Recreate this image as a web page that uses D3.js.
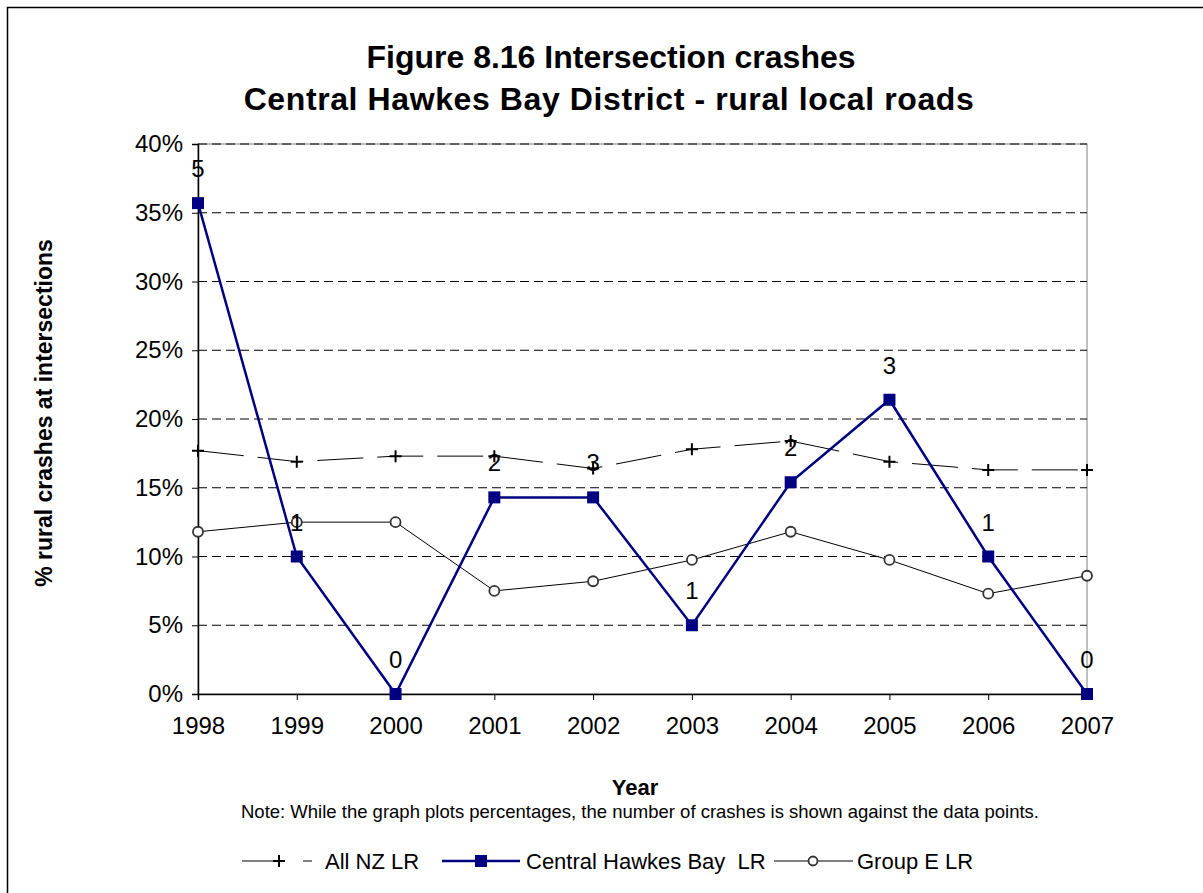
<!DOCTYPE html>
<html>
<head>
<meta charset="utf-8">
<script src="https://cdn.jsdelivr.net/npm/d3@7"></script>
<style>
  html, body { margin: 0; padding: 0; background: #fff; }
  svg { display: block; font-family: "Liberation Sans", Arial, sans-serif; }
  text { white-space: pre; }
</style>
</head>
<body>
<svg id="chart" width="1203" height="893"></svg>
<script>
const years = ["1998","1999","2000","2001","2002","2003","2004","2005","2006","2007"];
const allNZ = [0.177, 0.169, 0.173, 0.173, 0.164, 0.178, 0.184, 0.169, 0.163, 0.163];
const centralHB = [0.357, 0.100, 0.000, 0.143, 0.143, 0.050, 0.154, 0.214, 0.100, 0.000];
const groupE = [0.118, 0.125, 0.125, 0.075, 0.082, 0.0975, 0.118, 0.0975, 0.073, 0.086];
const crashCounts = [5, 1, 0, 2, 3, 1, 2, 3, 1, 0];
const yTicks = [0, 0.05, 0.10, 0.15, 0.20, 0.25, 0.30, 0.35, 0.40];
const seriesNames = ["All NZ LR", "Central Hawkes Bay  LR", "Group E LR"];

const svg = d3.select("#chart");
const pL = 198, pR = 1087, pT = 144, pB = 694;
const FONT = "Liberation Sans, Arial, sans-serif";

// outer chart border (extends past the picture on right/bottom)
svg.append("rect").attr("x", 7.5).attr("y", 7.5).attr("width", 1220).attr("height", 900)
  .attr("fill", "#fff").attr("stroke", "#000").attr("stroke-width", 1.5);

const x = d3.scalePoint().domain(years).range([pL, pR]);
const y = d3.scaleLinear().domain([0, 0.4]).range([pB, pT]);

// plot area border
svg.append("rect").attr("x", pL).attr("y", pT).attr("width", pR - pL).attr("height", pB - pT)
  .attr("fill", "none").attr("stroke", "#808080").attr("stroke-width", 1);

// gridlines
svg.append("g").selectAll("line").data(yTicks.filter(d => d > 0)).join("line")
  .attr("x1", pL).attr("x2", pR)
  .attr("y1", d => y(d)).attr("y2", d => y(d))
  .attr("stroke", "#000").attr("stroke-width", 1).attr("stroke-dasharray", "9,5");

// axes
const yAxis = d3.axisLeft(y).tickValues(yTicks).tickFormat(d3.format(".0%")).tickSizeOuter(0).tickSize(6).tickPadding(9);
const gy = svg.append("g").attr("transform", `translate(${pL},0)`).call(yAxis);
gy.attr("font-size", 24).attr("font-family", FONT);
gy.select(".domain").attr("stroke", "#000").attr("stroke-width", 1.5);
gy.selectAll("text").attr("fill", "#000");

const xAxis = d3.axisBottom(x).tickSizeOuter(0).tickSize(6).tickPadding(17);
const gx = svg.append("g").attr("transform", `translate(0,${pB})`).call(xAxis);
gx.attr("font-size", 24).attr("font-family", FONT);
gx.select(".domain").attr("stroke", "#000").attr("stroke-width", 1.5);
gx.selectAll("text").attr("fill", "#000");

const line = d3.line().x((d, i) => x(years[i])).y(d => y(d));

// Group E
svg.append("path").datum(groupE).attr("d", line).attr("fill", "none")
  .attr("stroke", "#000").attr("stroke-width", 1);
svg.append("g").selectAll("circle").data(groupE).join("circle")
  .attr("cx", (d, i) => x(years[i])).attr("cy", d => y(d)).attr("r", 5)
  .attr("fill", "#fff").attr("stroke", "#333").attr("stroke-width", 1.8);

// All NZ
svg.append("path").datum(allNZ).attr("d", line).attr("fill", "none")
  .attr("stroke", "#000").attr("stroke-width", 1).attr("stroke-dasharray", "46,14");
svg.append("g").selectAll("path").data(allNZ).join("path")
  .attr("transform", (d, i) => `translate(${x(years[i])},${y(d)})`)
  .attr("d", "M-6,0H6M0,-6V6").attr("stroke", "#000").attr("stroke-width", 2);

// Central HB
svg.append("path").datum(centralHB).attr("d", line).attr("fill", "none")
  .attr("stroke", "#000080").attr("stroke-width", 2.5);
svg.append("g").selectAll("rect").data(centralHB).join("rect")
  .attr("x", (d, i) => x(years[i]) - 6).attr("y", d => y(d) - 6)
  .attr("width", 12).attr("height", 12).attr("fill", "#000080");

// count labels
svg.append("g").selectAll("text").data(centralHB).join("text")
  .attr("x", (d, i) => x(years[i])).attr("y", d => y(d) - 26)
  .attr("text-anchor", "middle").attr("font-size", 24).attr("fill", "#000")
  .text((d, i) => crashCounts[i]);

// titles
const title = svg.append("text").attr("text-anchor", "middle").attr("font-size", 32)
  .attr("font-weight", "bold").attr("fill", "#000");
title.append("tspan").attr("x", 611).attr("y", 68).text("Figure 8.16 Intersection crashes");
title.append("tspan").attr("x", 609).attr("y", 110).attr("letter-spacing", 0.6)
  .text("Central Hawkes Bay District - rural local roads");

svg.append("text").attr("x", 635).attr("y", 795).attr("text-anchor", "middle")
  .attr("font-size", 22).attr("font-weight", "bold").text("Year");
svg.append("text").attr("x", 640).attr("y", 818).attr("text-anchor", "middle")
  .attr("font-size", 18.5).text("Note: While the graph plots percentages, the number of crashes is shown against the data points.");

svg.append("text").attr("transform", `translate(52,${(pT + pB) / 2 - 6}) rotate(-90)`)
  .attr("text-anchor", "middle").attr("font-size", 23).attr("font-weight", "bold")
  .text("% rural crashes at intersections");

// legend
const ly = 861;
const leg = svg.append("g").attr("font-size", 22);
// All NZ
leg.append("line").attr("x1", 242).attr("x2", 312).attr("y1", ly).attr("y2", ly)
  .attr("stroke", "#000").attr("stroke-width", 1).attr("stroke-dasharray", "41,20");
leg.append("path").attr("transform", `translate(279,${ly})`).attr("d", "M-6,0H6M0,-6V6")
  .attr("stroke", "#000").attr("stroke-width", 2);
leg.append("text").attr("x", 325).attr("y", ly + 8).text(seriesNames[0]);
// Central HB
leg.append("line").attr("x1", 442).attr("x2", 520).attr("y1", ly).attr("y2", ly)
  .attr("stroke", "#000080").attr("stroke-width", 2.5);
leg.append("rect").attr("x", 475).attr("y", ly - 6).attr("width", 12).attr("height", 12).attr("fill", "#000080");
leg.append("text").attr("x", 526).attr("y", ly + 8).text(seriesNames[1]);
// Group E
leg.append("line").attr("x1", 774).attr("x2", 853).attr("y1", ly).attr("y2", ly)
  .attr("stroke", "#000").attr("stroke-width", 1);
leg.append("circle").attr("cx", 813).attr("cy", ly).attr("r", 4.5)
  .attr("fill", "#fff").attr("stroke", "#333").attr("stroke-width", 1.8);
leg.append("text").attr("x", 857).attr("y", ly + 8).text(seriesNames[2]);
</script>
</body>
</html>
